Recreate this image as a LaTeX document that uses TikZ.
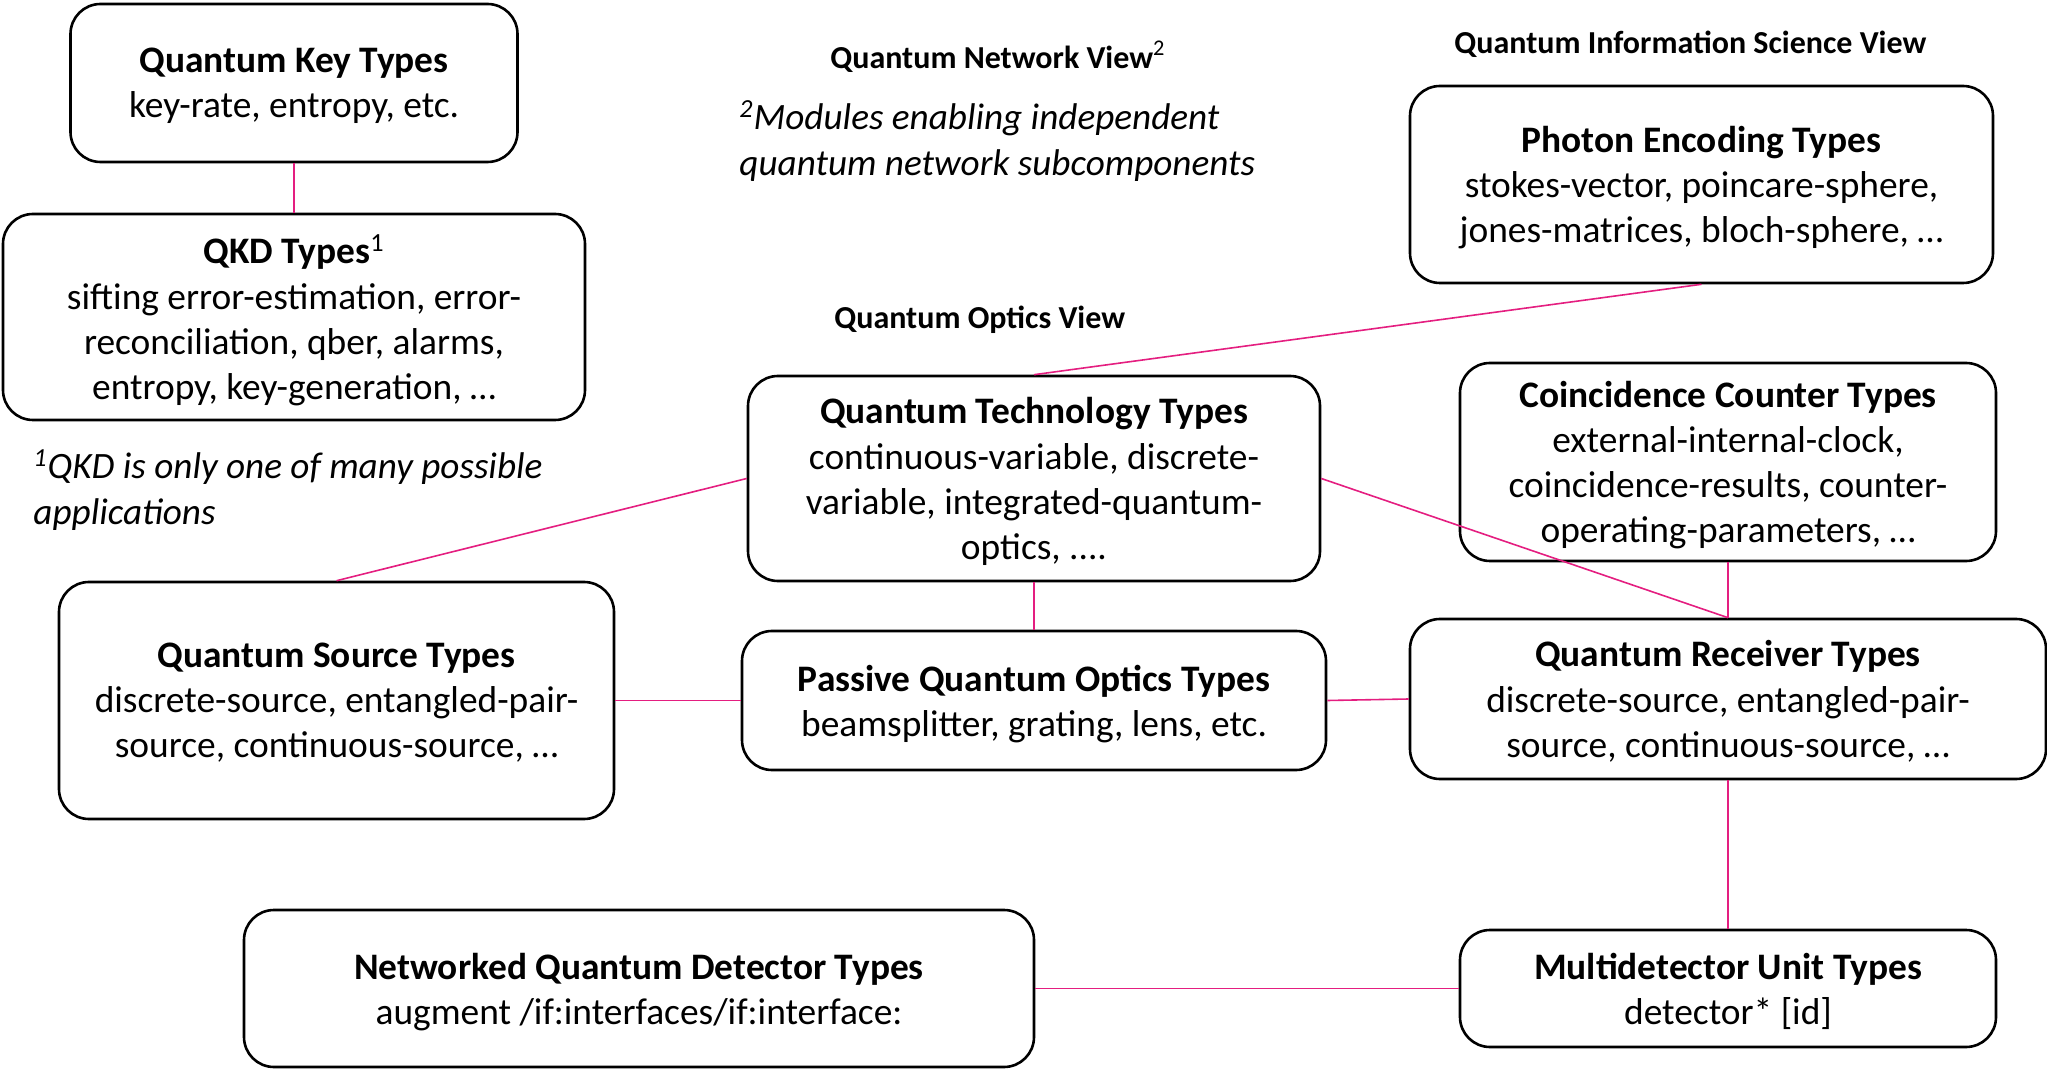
\documentclass[tikz,border=0pt]{standalone}
\usepackage{fontspec}
\setmainfont{Carlito}
\definecolor{linkpink}{RGB}{228,30,128}
\begin{document}
\begin{tikzpicture}[x=0.5pt,y=-0.5pt,
  box/.style={draw=black, line width=1.3pt, rounded corners=15pt, align=center,
    inner sep=0pt, text depth=0pt, font=\fontsize{18.7}{22.6}\selectfont},
  link/.style={draw=linkpink, line width=0.8pt},
  view/.style={font=\fontsize{16}{19}\selectfont\bfseries, inner sep=0pt, anchor=west},
  note/.style={font=\fontsize{18.6}{22.8}\selectfont\itshape, align=left, inner sep=0pt, anchor=west}]
\useasboundingbox (0,0) rectangle (2047,1069);

% type modules
\node[box, minimum width=223.5pt, minimum height=79pt] (qkey) at (294,83)
  {\textbf{Quantum Key Types}\\key-rate, entropy, etc.};
\node[box, minimum width=291pt, minimum height=103pt] (qkd) at (294,317)
  {\textbf{QKD Types}\textsuperscript{1}\\sifting error-estimation, error-\\reconciliation, qber, alarms,\\entropy, key-generation, …};
\node[box, minimum width=291.5pt, minimum height=98.5pt] (photon) at (1701.5,184.5)
  {\textbf{Photon Encoding Types}\\stokes-vector, poincare-sphere,\\jones-matrices, bloch-sphere, …};
\node[box, minimum width=286pt, minimum height=102.5pt] (qtech) at (1034,478.5)
  {\textbf{Quantum Technology Types}\\continuous-variable, discrete-\\variable, integrated-quantum-\\optics, ....};
\node[box, minimum width=268pt, minimum height=99pt] (coinc) at (1728,462)
  {\textbf{Coincidence Counter Types}\\external-internal-clock,\\coincidence-results, counter-\\operating-parameters, …};
\node[box, minimum width=277.5pt, minimum height=118.5pt] (qsource) at (336.5,700.5)
  {\textbf{Quantum Source Types}\\discrete-source, entangled-pair-\\source, continuous-source, …};
\node[box, minimum width=292pt, minimum height=69.5pt] (passive) at (1034,700.5)
  {\textbf{Passive Quantum Optics Types}\\beamsplitter, grating, lens, etc.};
\node[box, minimum width=318pt, minimum height=80pt] (receiver) at (1728,699)
  {\textbf{Quantum Receiver Types}\\discrete-source, entangled-pair-\\source, continuous-source, …};
\node[box, minimum width=395pt, minimum height=78.5pt] (netdet) at (639,988.5)
  {\textbf{Networked Quantum Detector Types}\\augment /if:interfaces/if:interface:};
\node[box, minimum width=268pt, minimum height=58.5pt] (multidet) at (1728,988.5)
  {\textbf{Multidetector Unit Types}\\detector* [id]};

% view headings
\node[view] (vnet) at (830,57) {Quantum Network View\textsuperscript{\mdseries 2}};
\node[view] (vopt) at (834,320) {Quantum Optics View};
\node[view] (vqis) at (1454,44) {Quantum Information Science View};

% footnotes
\node[note] (fn2) at (739,141) {\textsuperscript{2}Modules enabling independent\\quantum network subcomponents};
\node[note] (fn1) at (33,490) {\textsuperscript{1}QKD is only one of many possible\\applications};

% connectors
\draw[link] (qkey.south) -- (qkd.north);
\draw[link] (photon.south) -- (qtech.north);
\draw[link] (qtech.west) -- (qsource.north);
\draw[link] (qtech.east) -- (receiver.north);
\draw[link] (coinc.south) -- (receiver.north);
\draw[link] (qtech.south) -- (passive.north);
\draw[link] (qsource.east) -- (passive.west);
\draw[link] (passive.east) -- (receiver.west);
\draw[link] (receiver.south) -- (multidet.north);
\draw[link] (netdet.east) -- (multidet.west);
\end{tikzpicture}
\end{document}
